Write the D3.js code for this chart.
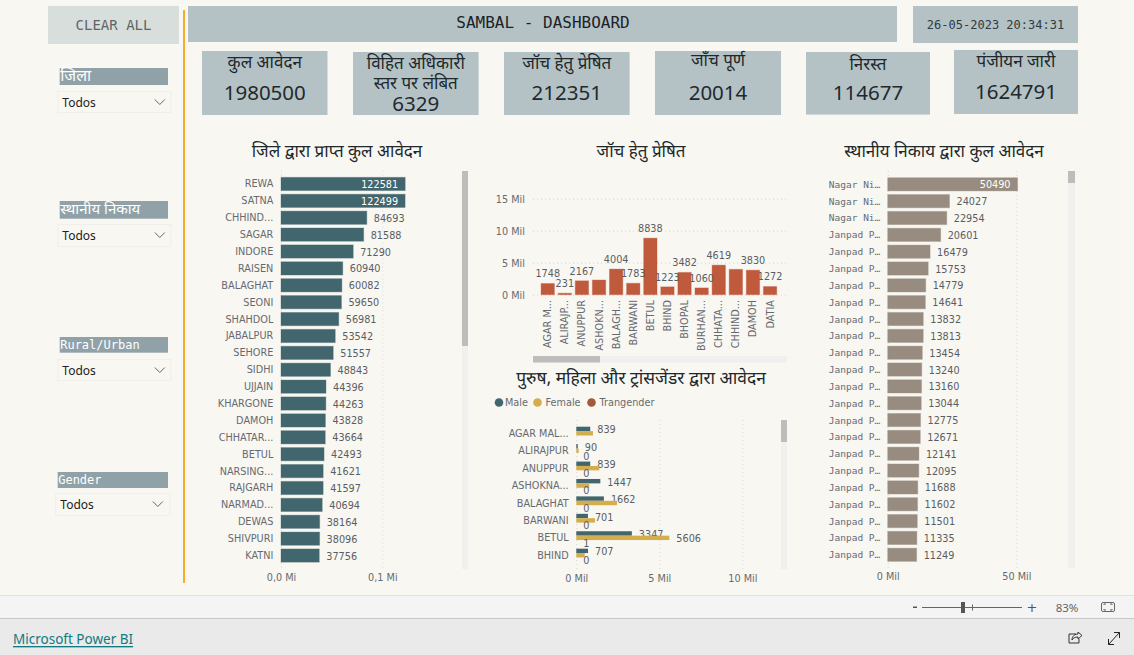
<!DOCTYPE html>
<html><head><meta charset="utf-8">
<script src="https://cdnjs.cloudflare.com/ajax/libs/d3/7.8.5/d3.min.js"></script>
<style>
html,body{margin:0;padding:0;background:#f9f7f2;overflow:hidden}
svg{display:block}
.dv{font-family:"Noto Sans Devanagari","Noto Serif Devanagari","Lohit Devanagari","Noto Sans",sans-serif}
.mono{font-family:"DejaVu Sans Mono",monospace}
.ds{font-family:"DejaVu Sans",sans-serif}
.ns{font-family:"Noto Sans",sans-serif}
</style></head><body>
<svg id="c" width="1134" height="655"></svg>
<script>
const districts=["REWA","SATNA","CHHIND...","SAGAR","INDORE","RAISEN","BALAGHAT","SEONI","SHAHDOL","JABALPUR","SEHORE","SIDHI","UJJAIN","KHARGONE","DAMOH","CHHATAR...","BETUL","NARSING...","RAJGARH","NARMAD...","DEWAS","SHIVPURI","KATNI"];
const districtTotals=[122581,122499,84693,81588,71290,60940,60082,59650,56981,53542,51557,48843,44396,44263,43828,43664,42493,41621,41597,40694,38164,38096,37756];
const districtTicks=[0,100000];
const districtTickLabels=["0,0 Mi","0,1 Mi"];

const bodies=["Nagar Ni…","Nagar Ni…","Nagar Ni…","Janpad P…","Janpad P…","Janpad P…","Janpad P…","Janpad P…","Janpad P…","Janpad P…","Janpad P…","Janpad P…","Janpad P…","Janpad P…","Janpad P…","Janpad P…","Janpad P…","Janpad P…","Janpad P…","Janpad P…","Janpad P…","Janpad P…","Janpad P…"];
const bodyTotals=[50490,24027,22954,20601,16479,15753,14779,14641,13832,13813,13454,13240,13160,13044,12775,12671,12141,12095,11688,11602,11501,11335,11249];
const bodyTicks=[0,50000];
const bodyTickLabels=["0 Mil","50 Mil"];

const sentCats=["AGAR M...","ALIRAJP...","ANUPPUR","ASHOKN...","BALAGH...","BARWANI","BETUL","BHIND","BHOPAL","BURHAN...","CHHATA...","CHHIND...","DAMOH","DATIA"];
const sentVals=[1748,231,2167,2290,4004,1783,8838,1223,3482,1060,4619,3960,3830,1272];
const sentHidden=["ASHOKN...","CHHIND..."];
const sentTicks=[0,5000,10000,15000];
const sentTickLabels=["0 Mil","5 Mil","10 Mil","15 Mil"];

const genderCats=["AGAR MAL...","ALIRAJPUR","ANUPPUR","ASHOKNA...","BALAGHAT","BARWANI","BETUL","BHIND"];
const maleVals=[839,90,839,1447,1662,701,3347,707];
const femaleVals=[1004,141,1385,783,2450,1125,5606,510];
const transVals=[0,0,0,0,0,0,1,0];
const femaleLabelled=["BETUL"];
const transUnlabelled=["AGAR MAL..."];
const genderKeys=["Male","Female","Trangender"];
const genderTicks=[0,5000,10000];
const genderTickLabels=["0 Mil","5 Mil","10 Mil"];

const kpiLabels=[["कुल आवेदन"],["विहित अधिकारी","स्तर पर लंबित"],["जॉच हेतु प्रेषित"],["जाँच पूर्ण"],["निरस्त"],["पंजीयन जारी"]];
const kpiValues=["1980500","6329","212351","20014","114677","1624791"];
const slicerLabels=["जिला","स्थानीय निकाय","Rural/Urban","Gender"];

const C={box:"#b4c2c6",tick:"#666a70",dist:"#42666e",sent:"#c05a3c",body:"#988c80",female:"#d4ae4c",trans:"#a0593a",grid:"#d6d4cf",track:"#f1f0ee",thumb:"#bfbdbb"};
const svg=d3.select("#c");
const rect=(g,x,y,w,h,f,extra)=>{const r=g.append("rect").attr("x",x).attr("y",y).attr("width",w).attr("height",h).attr("fill",f);if(extra)r.attr("stroke",extra).attr("stroke-width",1);return r;};
const text=(g,x,y,s,cls,size,fill,anchor)=>g.append("text").attr("x",x).attr("y",y).attr("class",cls).attr("font-size",size).attr("fill",fill).attr("text-anchor",anchor||"middle").attr("dominant-baseline","central").text(s);

rect(svg,0,0,1134,655,"#f9f7f2");
// header
rect(svg,48,6,131,38,"#d8dedc");
text(svg,113.5,25,"CLEAR ALL","mono",14,"#5f6568");
rect(svg,183,10,2,573,"#f5ad2e");
rect(svg,188,6,709,36,C.box);
text(svg,543,22,"SAMBAL - DASHBOARD","mono",16,"#1c2326");
rect(svg,913,6,165,37,C.box);
text(svg,995.5,24.5,"26-05-2023 20:34:31","mono",12,"#2f3b40");

// KPI cards
const kpiBoxes=[[202,51,125.5,64],[353,52,125.6,63],[504,52,125.6,63],[655,51,126,64],[806,52,124,62.6],[954,50,124,64]];
const kpiLabelY=[[63.5],[65,85],[65],[62],[65.5],[62.5]], kpiValY=[92,102.5,92,92,91.5,90.5];
kpiValues.forEach((v,i)=>{
  const [x,y,w,h]=kpiBoxes[i],cx=x+w/2;
  rect(svg,x,y,w,h,C.box);
  kpiLabels[i].forEach((t,j)=>text(svg,cx,kpiLabelY[i][j],t,"dv",17,"#20282c"));
  text(svg,cx,kpiValY[i],v,"ns",20.5,"#22292d");
});

// slicers
const slicerBoxes=[[59.7,68,108.3,17,57.3,91,113,21],[59.7,201,108.3,17.7,57.3,224,113,22],[59.7,337,108.3,15.7,57.3,359,113,21],[57.7,472,110.3,16,55.3,493,114,22]];
const slicerSizes=[16,15,12,12];
slicerLabels.forEach((t,i)=>{
  const [x,y,w,h,dx,dy,dw,dh]=slicerBoxes[i];
  rect(svg,x,y,w,h,"#90a2a8");
  text(svg,x+.5,y+h/2+(i<2?1:0),t,i<2?"dv":"mono",slicerSizes[i],"#fff","start");
  rect(svg,dx+.5,dy+.5,dw,dh,"#f9f7f2","#f0efeb");
  text(svg,dx+5,dy+dh/2+.5,"Todos","ns",12,"#222","start");
  svg.append("path").attr("d",`M${dx+97.5} ${dy+8.5}l5 5l5 -5`).attr("fill","none").attr("stroke","#666");
});

// scrollbars
rect(svg,462,171,6,398,C.track);rect(svg,462,171,6,175,C.thumb);
rect(svg,533,356,254,6.5,C.track);rect(svg,533,356,67,6.5,C.thumb);
rect(svg,781,420,6,149,C.track);rect(svg,781,420,6,22,C.thumb);
rect(svg,1068,171,7,397,C.track);rect(svg,1068,171,7,12,C.thumb);

// titles
text(svg,337,153,"जिले द्वारा प्राप्त कुल आवेदन","dv",17,"#20282c");
text(svg,641,153,"जॉच हेतु प्रेषित","dv",17,"#20282c");
text(svg,944,153,"स्थानीय निकाय द्वारा कुल आवेदन","dv",17,"#20282c");
text(svg,641,379,"पुरुष, महिला और ट्रांसजेंडर द्वारा आवेदन","dv",17.4,"#20282c");

function styleAxis(g,gridCol){
  g.select(".domain").remove();
  g.selectAll("text").attr("class","ds").attr("font-size",9.7).attr("font-family",null).attr("fill",C.tick);
  g.selectAll("line").attr("stroke",gridCol||C.grid).attr("stroke-dasharray","1 3");
}
function hbar(cats,vals,ticks,tickLabels,xr,yr,col,labelX,fontCls,bandH){
  const g=svg.append("g");
  const x=d3.scaleLinear().domain([0,ticks[1]]).range(xr);
  const y=d3.scaleBand().domain(d3.range(cats.length)).range(yr);
  const ax=g.append("g").attr("transform",`translate(0,${yr[1]+5})`)
    .call(d3.axisBottom(x).tickValues(ticks).tickFormat((d,i)=>tickLabels[i]).tickSize(yr[1]-yr[0]+8).tickPadding(0));
  styleAxis(ax);
  ax.selectAll("line").attr("y1",-(yr[1]-yr[0]+10)).attr("y2",0);
  ax.selectAll("text").attr("y",8.5).attr("dy",null).attr("dominant-baseline","central");
  const cy=i=>y(i)+y.bandwidth()/2;
  g.selectAll(".bar").data(vals).join("rect").attr("x",x(0)).attr("y",(d,i)=>cy(i)-bandH/2).attr("width",d=>x(d)-x(0)).attr("height",bandH).attr("fill",col).attr("stroke",col).attr("stroke-opacity",.35).attr("stroke-width",1);
  g.selectAll(".cat").data(cats).join("text").attr("class",fontCls).attr("font-size",fontCls=="mono"?9.5:9.7).attr("fill",C.tick).attr("text-anchor","end").attr("dominant-baseline","central").attr("x",labelX).attr("y",(d,i)=>cy(i)).text(d=>d);
  g.selectAll(".val").data(vals).join("text").attr("class","ds").attr("font-size",9.7).attr("dominant-baseline","central")
    .attr("y",(d,i)=>cy(i)+.5)
    .attr("x",d=>d>ticks[1]?x(d)-7:x(d)+7)
    .attr("text-anchor",d=>d>ticks[1]?"end":"start")
    .attr("fill",d=>d>ticks[1]?"#fff":"#5a5e62").text(d=>d);
}
hbar(districts,districtTotals,districtTicks,districtTickLabels,[281,382.3],[175.5,564],C.dist,273.3,"ds",13.2);
hbar(bodies,bodyTotals,bodyTicks,bodyTickLabels,[887.7,1016.3],[175.9,563.2],C.body,880.3,"mono",13.2);

// sent for inquiry column chart
(function(){
  const g=svg.append("g");
  const y=d3.scaleLinear().domain([0,15000]).range([294.7,198.7]);
  const x=d3.scaleBand().domain(sentCats).range([537.3,780.5]).padding(0.22);
  const ax=g.append("g").attr("transform","translate(533,0)").call(d3.axisLeft(y).tickValues(sentTicks).tickFormat((d,i)=>sentTickLabels[i]).tickSize(-253).tickPadding(8));
  styleAxis(ax);
  ax.selectAll("text").attr("dominant-baseline","central").attr("dy",null).attr("x",-8);
  g.selectAll(".b").data(sentVals).join("rect").attr("x",(d,i)=>x(sentCats[i])).attr("y",d=>y(d)).attr("width",x.bandwidth()).attr("height",d=>y(0)-y(d)).attr("fill",C.sent).attr("stroke",C.sent).attr("stroke-opacity",.35);
  sentCats.forEach((c,i)=>{
    const cx=x(c)+x.bandwidth()/2;
    g.append("text").attr("class","ds").attr("font-size",9.7).attr("fill",C.tick).attr("text-anchor","end").attr("dominant-baseline","central")
     .attr("transform",`translate(${cx},300) rotate(-90)`).text(c);
    if(!sentHidden.includes(c))
      g.append("text").attr("class","ds").attr("font-size",9.7).attr("fill","#5a5e62").attr("text-anchor","middle").attr("x",cx).attr("y",y(sentVals[i])-9.7).attr("dominant-baseline","central").text(sentVals[i]);
  });
})();

// gender chart
(function(){
  const g=svg.append("g");
  // legend
  const lx=[500,538.5,592.5],tx=[505,545.5,599.5];
  genderKeys.forEach((k,i)=>{
    g.append("circle").attr("cx",lx[i]-1).attr("cy",402.5).attr("r",4.3).attr("fill",[C.dist,C.female,C.trans][i]);
    text(g,tx[i],402.5,k,"ds",9.7,C.tick,"start");
  });
  const x=d3.scaleLinear().domain([0,10000]).range([576.3,742.3]);
  const y=d3.scaleBand().domain(genderCats).range([424.6,564]);
  const sub=d3.scaleBand().domain(genderKeys).range([2.1,15.3]);
  const ax=g.append("g").attr("transform","translate(0,569)").call(d3.axisBottom(x).tickValues(genderTicks).tickFormat((d,i)=>genderTickLabels[i]).tickSize(0).tickPadding(0));
  styleAxis(ax);
  ax.selectAll("line").attr("y1",-149).attr("y2",0);
  ax.selectAll("text").attr("y",9.5).attr("dy",null).attr("dominant-baseline","central");
  const series=[[maleVals,C.dist],[femaleVals,C.female],[transVals,C.trans]];
  series.forEach(([vals,col],s)=>{
    const key=genderKeys[s];
    g.selectAll(".r"+s).data(vals).join("rect").attr("x",x(0)).attr("y",(d,i)=>y(genderCats[i])+sub(key)).attr("width",d=>x(d)-x(0)).attr("height",sub.bandwidth()).attr("fill",col);
    vals.forEach((v,i)=>{
      const c=genderCats[i];
      const show=s==0||(s==1&&femaleLabelled.includes(c))||(s==2&&!transUnlabelled.includes(c));
      if(show) g.append("text").attr("class","ds").attr("font-size",9.7).attr("fill","#5a5e62").attr("dominant-baseline","central").attr("x",x(v)+7).attr("y",y(c)+sub(key)+sub.bandwidth()/2+1).text(v);
    });
  });
  genderCats.forEach(c=>text(g,568.7,y(c)+y.bandwidth()/2,c,"ds",9.7,C.tick,"end"));
})();

// footer chrome
rect(svg,0,595,1134,23,"#f4f4f4");
rect(svg,0,595,1134,1,"#e2e2e2");
rect(svg,0,618,1134,37,"#eaeaea");
rect(svg,0,618,1134,1,"#c6c6c6");
text(svg,13,639,"Microsoft Power BI","ns",13.5,"#117a82","start").attr("text-decoration","underline");
const sl=svg.append("g");
rect(sl,913,606.5,4,1.5,"#555");
rect(sl,922,607,100,1,"#666");
rect(sl,961,602,4,11,"#555");
rect(sl,972,604.5,1,6,"#666");
text(sl,1032,607,"+","ds",13,"#555");
text(sl,1067,607,"83%","ns",11.5,"#666");
sl.append("rect").attr("x",1101.5).attr("y",602.5).attr("width",13).attr("height",9).attr("rx",1.5).attr("fill","none").attr("stroke","#666");
sl.append("path").attr("d","M1104 605v-1h2M1112 605v-1h-2M1104 609v1h2M1112 609v1h-2").attr("fill","none").attr("stroke","#666");
sl.append("path").attr("d","M1076 634h-7v9h10v-4M1072 640c0-4 3-6 6-6v-2l4 3.500l-4 3.500v-2c-3 0-5 1-6 3z").attr("fill","none").attr("stroke","#333");
sl.append("path").attr("d","M1108.500 644.500l11-12M1114 632.500h5.500v5.500M1108.500 639v5.500h5.500").attr("fill","none").attr("stroke","#222");
</script></body></html>
